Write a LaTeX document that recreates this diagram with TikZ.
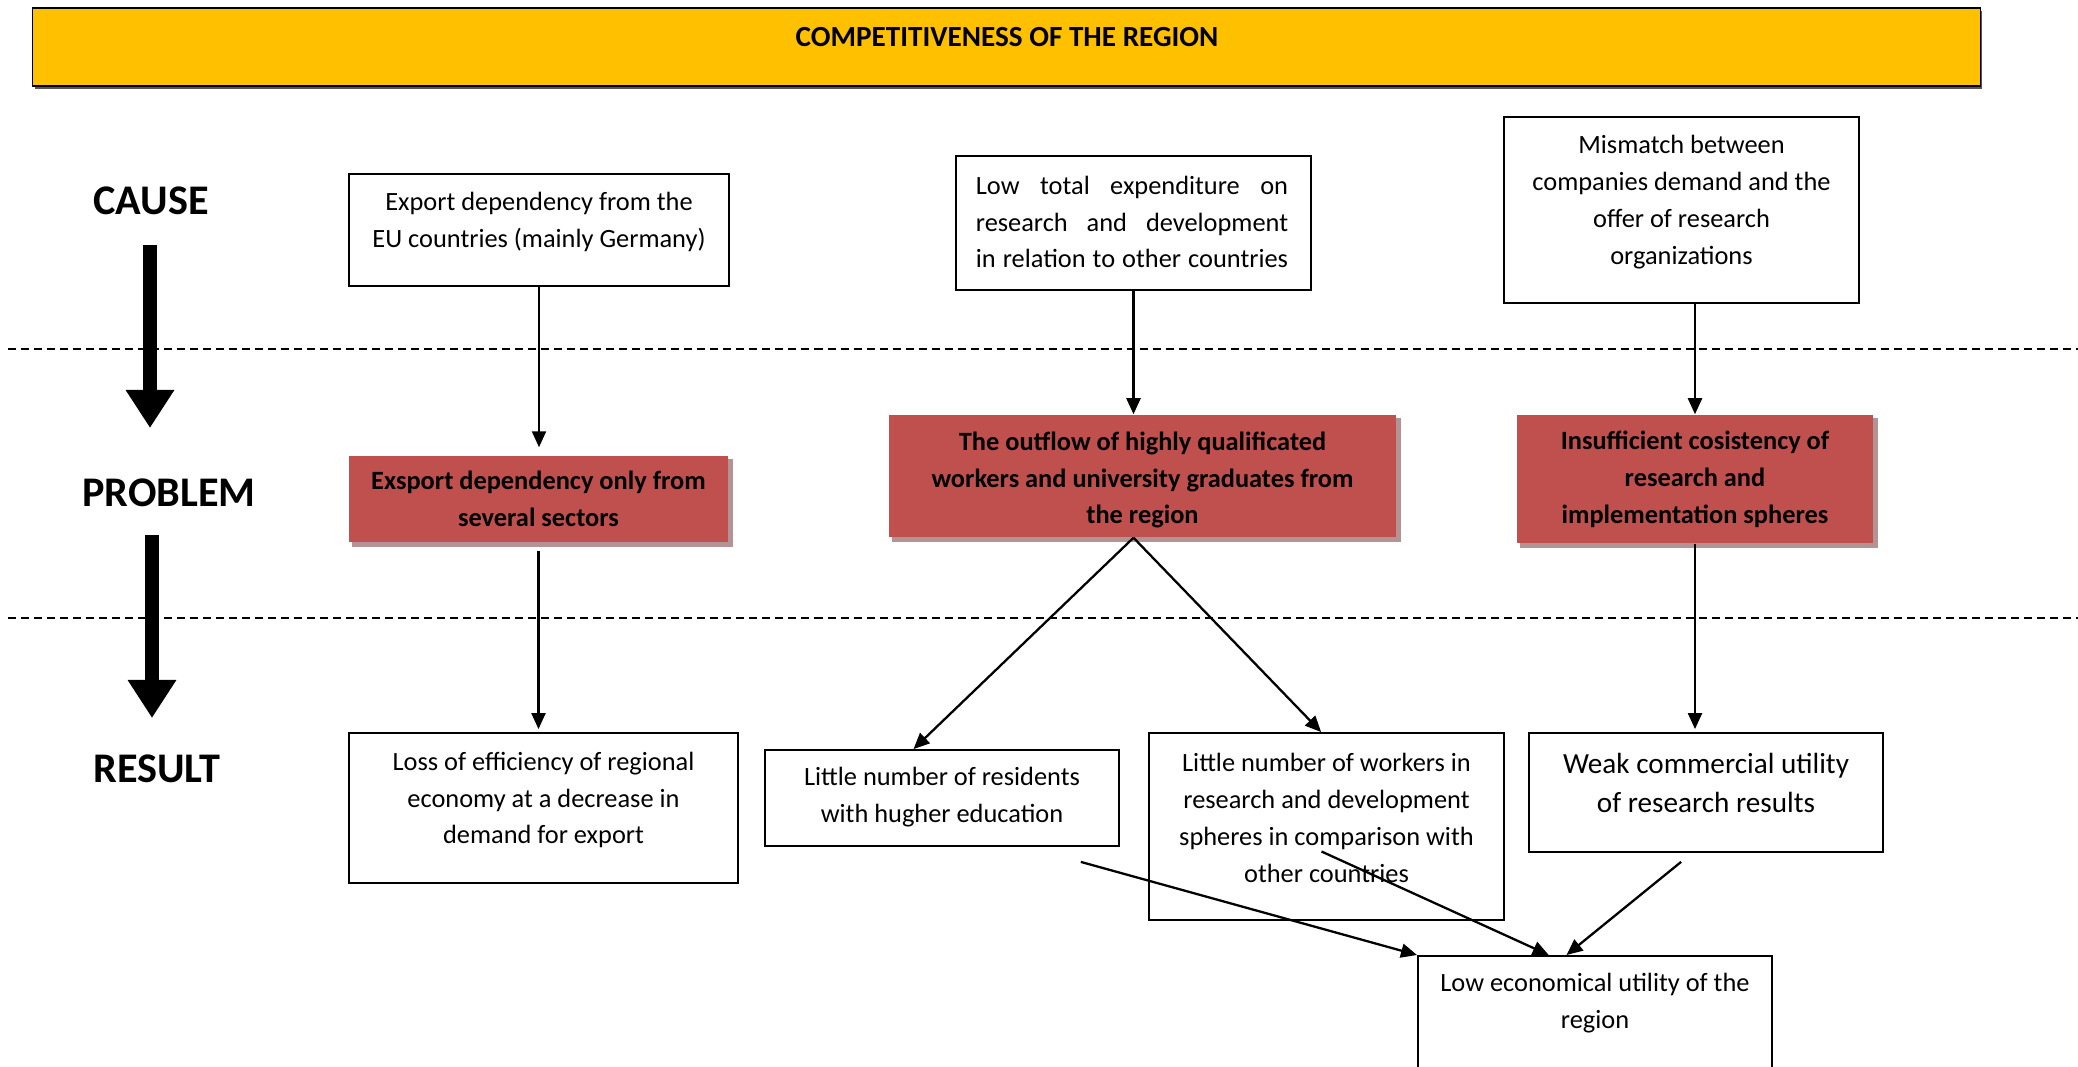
\documentclass[tikz,border=0pt]{standalone}
\usepackage{fontspec}
\setmainfont{Carlito}
\usetikzlibrary{arrows.meta,calc,backgrounds}
\definecolor{titlefill}{HTML}{FFC000}
\definecolor{probfill}{HTML}{C0504D}
\definecolor{probshadow}{HTML}{B39393}
\definecolor{titleshadow}{HTML}{555555}

\begin{document}
\begin{tikzpicture}[x=0.01cm,y=-0.01cm,
  txt/.style={font=\fontsize{7.5}{10.5}\selectfont},
  box/.style={draw, line width=0.5pt, fill=white, inner sep=0pt},
  boxtext/.style={txt, align=center, inner sep=0pt},
  probbox/.style={fill=probfill, align=center, inner sep=0pt, font=\bfseries\fontsize{7.5}{10.5}\selectfont},
  stage/.style={font=\bfseries\fontsize{12}{14}\selectfont, inner sep=0pt},
  flow/.style={line width=0.65pt, -{Triangle[width=0.14cm,length=0.16cm]}},
  bigflow/.style={line width=0.14cm, -{Triangle[width=0.46cm,length=0.38cm]}},
  divider/.style={line width=0.4pt, dash pattern=on 0.08cm off 0.05cm}
]
\useasboundingbox (0,0) rectangle (2078,1067);
\clip (0,0) rectangle (2078,1067);
\begin{scope}[on background layer]
  \fill[white] (0,0) rectangle (2078,1067);
\end{scope}

% heading bar
\fill[titleshadow] (35,11) rectangle (1982,89);
\node[draw, line width=0.5pt, fill=titlefill, minimum width=19.47cm, minimum height=0.78cm, inner sep=0pt] (title) at (1006.5,47) {};
\node[inner sep=0pt, font=\bfseries\fontsize{8.3}{11}\selectfont] (titletext) at (1007,37) {COMPETITIVENESS OF THE REGION};

% level dividers
\coordinate (d1a) at (8,349);
\coordinate (d1b) at (2078,349);
\coordinate (d2a) at (8,618);
\coordinate (d2b) at (2078,618);
\draw[divider] (d1a) -- (d1b);
\draw[divider] (d2a) -- (d2b);

% level labels and the big arrows between them
\node[stage] (lcause) at (151,201) {CAUSE};
\node[stage] (lproblem) at (169,493) {PROBLEM};
\node[stage] (lresult) at (157,769) {RESULT};
\coordinate (ba1s) at (150,245);
\coordinate (ba1e) at (150,428);
\coordinate (ba2s) at (152,535);
\coordinate (ba2e) at (152,718);
\draw[bigflow] (ba1s) -- (ba1e);
\draw[bigflow] (ba2s) -- (ba2e);

% causes
\node[box, minimum width=3.80cm, minimum height=1.12cm] (cause1) at (539,230) {};
\node[boxtext] (cause1text) at (539,222)
  {Export dependency from the\\EU countries (mainly Germany)};
\node[box, minimum width=3.55cm, minimum height=1.34cm] (cause2) at (1133.5,223) {};
\node[boxtext] (cause2text) at (1132,222)
  {\makebox[3.12cm][s]{Low total expenditure on}\\
   \makebox[3.12cm][s]{research and development}\\
   \makebox[3.12cm][s]{in relation to other countries}};
\node[box, minimum width=3.55cm, minimum height=1.86cm] (cause3) at (1681.5,210) {};
\node[boxtext] (cause3text) at (1681.5,202)
  {Mismatch between\\companies demand and the\\offer of research\\organizations};

% problems
\node[probbox, minimum width=3.79cm, minimum height=0.86cm] (prob1) at (538.5,499)
  {Exsport dependency only from\\several sectors};
\node[probbox, minimum width=5.07cm, minimum height=1.22cm] (prob2) at (1142.5,476) {};
\begin{scope}
  \clip (prob2.north west) rectangle ($(prob2.south east)+(0,-10)$);
  \node[probbox, fill=none] (prob2text) at (1142.5,480)
    {The outflow of highly qualificated\\workers and university graduates from\\the region};
\end{scope}
\node[probbox, minimum width=3.56cm, minimum height=1.28cm] (prob3) at (1695,479)
  {Insufficient cosistency of\\research and\\implementation spheres};
\begin{scope}[on background layer]
  \foreach \p in {prob1,prob2,prob3}
    \fill[probshadow] ($(\p.north west)+(4,4)$) rectangle ($(\p.south east)+(4,4)$);
\end{scope}

% results
\node[box, minimum width=3.89cm, minimum height=1.50cm] (res1) at (543.5,808) {};
\node[boxtext] (res1text) at (543.5,800)
  {Loss of efficiency of regional\\economy at a decrease in\\demand for export};
\node[box, minimum width=3.54cm, minimum height=0.96cm] (res2) at (942,798) {};
\node[boxtext] (res2text) at (942,797)
  {Little number of residents\\with hugher education};
\node[box, minimum width=3.55cm, minimum height=1.87cm] (res3) at (1326.5,826.5) {};
\node[boxtext] (res3text) at (1326.5,818)
  {Little number of workers in\\research and development\\spheres in comparison with\\other countries};
\node[box, minimum width=3.54cm, minimum height=1.19cm] (res4) at (1706,792.5) {};
\node[boxtext, font=\fontsize{8.3}{11.3}\selectfont] (res4text) at (1706,783)
  {Weak commercial utility\\of research results};

% final outcome
\node[box, anchor=north, minimum width=3.54cm, minimum height=1.70cm] (final) at (1595,955) {};
\node[boxtext] (finaltext) at (1595,1003)
  {Low economical utility of the\\region};

% cause -> problem
\draw[flow, shorten >=0.08cm] (cause1.south) -- (cause1.south |- prob1.north);
\draw[flow] (cause2.south) -- (cause2.south |- prob2.north);
\draw[flow] (prob3.north |- cause3.south) -- (prob3.north);

% problem -> result
\draw[flow, shorten <=0.08cm, shorten >=0.03cm] (prob1.south) -- (prob1.south |- res1.north);
\coordinate (p2out) at (cause2.south |- prob2.south);
\draw[flow] (p2out) -- ($(res2.north west)!0.42!(res2.north east)$);
\draw[flow] (p2out) -- ($(res3.north west)!0.485!(res3.north east)$);
\draw[flow, shorten >=0.03cm] (prob3.south) -- (prob3.south |- res4.north);

% result -> final
\draw[flow] ($(res2.south west)!0.89!(res2.south east)+(0,15)$) -- (final.north west);
\draw[flow] ($(res3.center)+(-5,25)$) -- ($(final.north west)!0.37!(final.north east)$);
\draw[flow] ($(res4.south west)!0.43!(res4.south east)+(0,9)$) -- ($(final.north west)!0.42!(final.north east)$);
\end{tikzpicture}
\end{document}
